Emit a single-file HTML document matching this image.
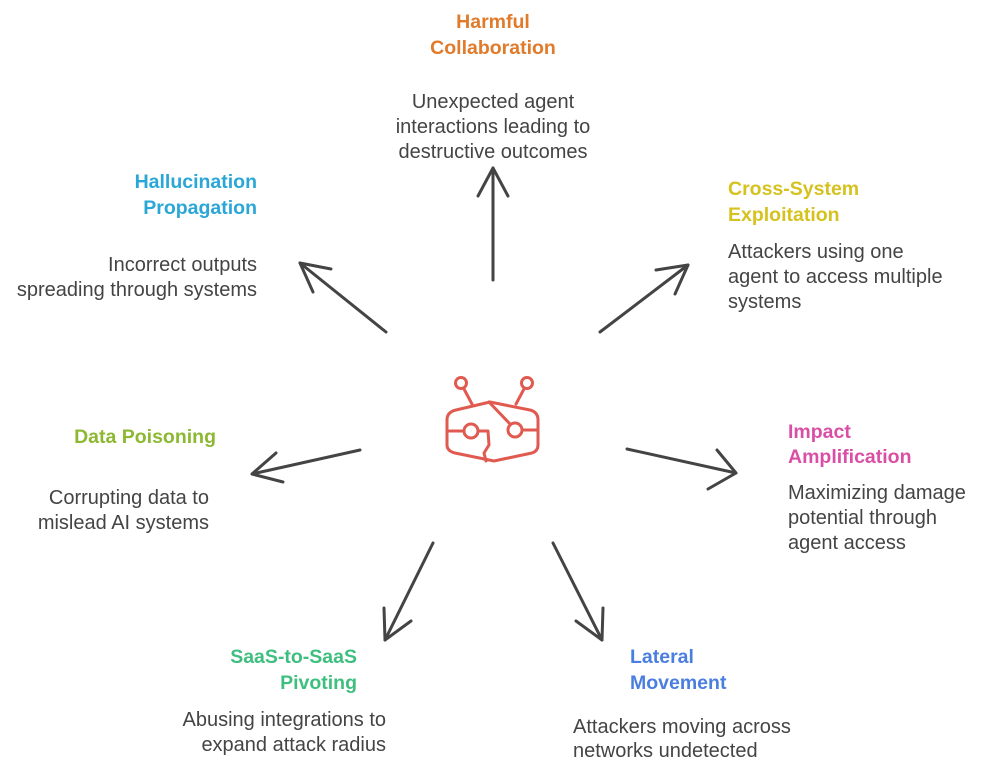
<!DOCTYPE html>
<html><head><meta charset="utf-8"><style>
html,body{margin:0;padding:0;background:#fff;}
svg{display:block;}
text{font-family:"Liberation Sans",sans-serif;}
.t{font-weight:bold;font-size:19.5px;}
.b{font-size:20px;fill:#444;}
</style></head><body>
<svg width="982" height="775" viewBox="0 0 982 775" xmlns="http://www.w3.org/2000/svg">
<g fill="none" stroke="#444" stroke-width="3" stroke-linecap="round" stroke-linejoin="round">
<line x1="493" y1="280" x2="493" y2="168"/><polyline points="478,196 493,168 508,196"/>
<line x1="386" y1="332" x2="300" y2="263"/><polyline points="313,292 300,263 331,269"/>
<line x1="600" y1="332" x2="688" y2="265"/><polyline points="656,270 688,265 675,294"/>
<line x1="360" y1="450" x2="252" y2="474"/><polyline points="283,482 252,474 276,453"/>
<line x1="627" y1="449" x2="736" y2="473"/><polyline points="717,450 736,473 708,489"/>
<line x1="433" y1="543" x2="385" y2="640"/><polyline points="411,621 385,640 384,608"/>
<line x1="553" y1="543" x2="602" y2="640"/><polyline points="576,621 602,640 603,608"/>
</g>
<g fill="none" stroke="#E05A50" stroke-width="3" stroke-linecap="round" stroke-linejoin="round">
<circle cx="461" cy="383" r="5.5"/><circle cx="527" cy="383" r="5.5"/>
<line x1="464" y1="389" x2="472" y2="404"/><line x1="524" y1="389" x2="516" y2="404"/>
<path d="M456,410 L490,402 L530,410 Q538,412 538,420 L538,445 Q538,451 532,453 L494,461 L455,453 Q447,451 447,445 L447,420 Q447,412 456,410 Z"/>
<circle cx="471" cy="431" r="7"/><circle cx="515" cy="430" r="7"/>
<line x1="447" y1="431" x2="464" y2="431"/><line x1="522" y1="430" x2="538" y2="430"/>
<line x1="489" y1="402" x2="510" y2="424"/>
<path d="M478,431 L488,431 L489,445 L484,453 L486,461"/>
</g>
<text class="t" fill="#E07B2C" text-anchor="middle"><tspan x="493" y="28">Harmful</tspan><tspan x="493" y="54">Collaboration</tspan></text>
<text class="b" text-anchor="middle"><tspan x="493" y="108">Unexpected agent</tspan><tspan x="493" y="133">interactions leading to</tspan><tspan x="493" y="158">destructive outcomes</tspan></text>
<text class="t" fill="#2AA7D6" text-anchor="end"><tspan x="257" y="188">Hallucination</tspan><tspan x="257" y="214">Propagation</tspan></text>
<text class="b" text-anchor="end"><tspan x="257" y="271">Incorrect outputs</tspan><tspan x="257" y="296">spreading through systems</tspan></text>
<text class="t" fill="#D6C21E"><tspan x="728" y="195">Cross-System</tspan><tspan x="728" y="221">Exploitation</tspan></text>
<text class="b"><tspan x="728" y="258">Attackers using one</tspan><tspan x="728" y="283">agent to access multiple</tspan><tspan x="728" y="308">systems</tspan></text>
<text class="t" fill="#8DB832" text-anchor="end"><tspan x="216" y="443">Data Poisoning</tspan></text>
<text class="b" text-anchor="end"><tspan x="209" y="504">Corrupting data to</tspan><tspan x="209" y="529">mislead AI systems</tspan></text>
<text class="t" fill="#D94FA5"><tspan x="788" y="438">Impact</tspan><tspan x="788" y="463">Amplification</tspan></text>
<text class="b"><tspan x="788" y="499">Maximizing damage</tspan><tspan x="788" y="524">potential through</tspan><tspan x="788" y="549">agent access</tspan></text>
<text class="t" fill="#3FBF7F" text-anchor="end"><tspan x="357" y="663">SaaS-to-SaaS</tspan><tspan x="357" y="689">Pivoting</tspan></text>
<text class="b" text-anchor="end"><tspan x="386" y="726">Abusing integrations to</tspan><tspan x="386" y="751">expand attack radius</tspan></text>
<text class="t" fill="#4A7FE0"><tspan x="630" y="663">Lateral</tspan><tspan x="630" y="689">Movement</tspan></text>
<text class="b"><tspan x="573" y="733">Attackers moving across</tspan><tspan x="573" y="757">networks undetected</tspan></text>
</svg>
</body></html>
